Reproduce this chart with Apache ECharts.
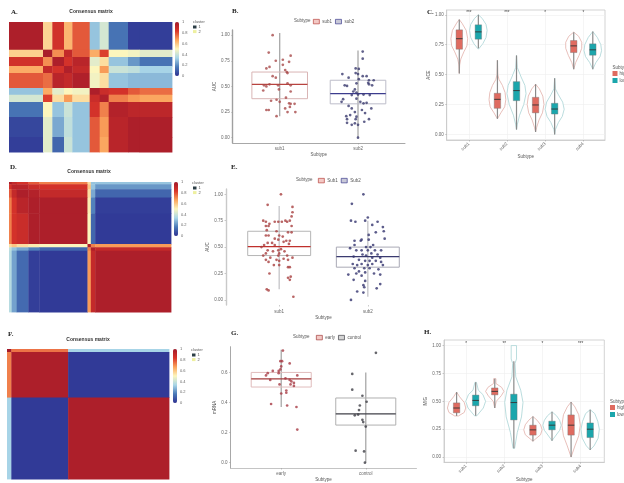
<!DOCTYPE html>
<html><head><meta charset="utf-8">
<style>html,body{margin:0;padding:0;background:#fff}#c{width:624px;height:483px}</style>
<script src="https://cdn.jsdelivr.net/npm/echarts@6/dist/echarts.min.js"></script>
</head><body><div id="c"></div>
<script>
// ---------- consensus matrices (block edges in sample units, block values 0..1)
const aColEdges=[0,102,130,165,190,242,272,299,357,392,489];
const aRowEdges=[0,83,105,132,153,198,218,240,285,345,390];
const aValues=[
[.97,.57,.86,.63,.78,.30,.42,.15,.03,.03],
[.58,.98,.70,.90,.78,.65,.82,.50,.48,.45],
[.86,.70,.97,.85,.93,.45,.55,.30,.22,.15],
[.65,.90,.85,.96,.90,.50,.68,.40,.38,.33],
[.78,.75,.93,.90,.96,.48,.55,.30,.28,.28],
[.30,.65,.45,.50,.48,.97,.88,.85,.78,.75],
[.42,.82,.55,.68,.55,.88,.96,.72,.68,.66],
[.15,.50,.30,.40,.30,.85,.72,.95,.92,.92],
[.05,.45,.25,.38,.30,.78,.68,.93,.97,.97],
[.03,.45,.12,.40,.30,.78,.66,.93,.97,.97]];
const dColEdges=[0,8,23,58,91,235,245,258,485];
const dRowEdges=[0,7,22,47,95,187,197,207,392];
const dValues=[
[.98,.90,.85,.78,.72,.55,.30,.30],
[.85,.93,.93,.88,.85,.60,.30,.22],
[.78,.90,.97,.95,.90,.55,.25,.12],
[.72,.85,.93,.97,.97,.52,.18,.03],
[.72,.85,.88,.97,.97,.50,.12,.02],
[.55,.60,.55,.52,.50,.98,.72,.68],
[.38,.30,.25,.18,.12,.72,.96,.90],
[.36,.24,.13,.03,.02,.68,.90,.97]];
const fColEdges=[0,13,183,485];
const fRowEdges=[0,9,145,388];
const fValues=[[1,.74,.33],[.72,.97,.02],[.33,.02,.97]];
const heatColors=['#2e3192','#4a7ab8','#a9d6e8','#fcf6bd','#fba45c','#d8352a','#a31a2a'];
const colorbarTicks=[0,.2,.4,.6,.8,1];
const clusterNames=['1','2'];
// ---------- panel B
const bCats=['sub1','sub2'];
const bBox1=[.21,.38,.52,.64,1.02];
const bBox2=[0,.33,.43,.56,.85];
const bPoints1=[[.91,1],[.86,.83],[1.14,.8],[.95,.75],[1.12,.74],[1.04,.76],[.87,.69],[.83,.675],[1.07,.66],[1.09,.64],[1.1,.63],[.91,.6],[.95,.585],[.8,.51],[.83,.5],[.87,.52],[.98,.51],[1.1,.53],[1.14,.51],[.99,.47],[1.14,.45],[.79,.46],[.89,.36],[.96,.37],[1,.35],[1.08,.39],[1.12,.335],[1.14,.33],[1.19,.33],[.83,.27],[.86,.27],[1.07,.285],[1.13,.3],[1.1,.25],[1.2,.25],[.96,.21],[1.04,.71]];
const bPoints2=[[2.06,.84],[2.06,.77],[1.8,.62],[1.97,.675],[2.01,.67],[1.97,.63],[2,.62],[2.06,.6],[2.11,.6],[1.88,.585],[2.01,.57],[2.14,.56],[2.2,.56],[2.13,.535],[1.83,.51],[1.86,.505],[2.14,.52],[2.18,.51],[1.98,.53],[1.96,.47],[1.94,.45],[1.98,.44],[1.92,.415],[2,.42],[2.07,.42],[2.15,.415],[1.81,.375],[1.79,.35],[1.98,.38],[2.03,.35],[2.07,.335],[2.11,.34],[1.88,.31],[1.92,.285],[1.96,.25],[2.05,.27],[2.17,.285],[2.09,.24],[1.85,.21],[1.9,.22],[1.98,.205],[1.86,.18],[1.97,.18],[2.14,.18],[1.86,.145],[1.92,.125],[1.96,.14],[2.08,.155],[2,.125],[2,0]];
// ---------- panel E
const eBox1=[.1,.42,.505,.65,.89];
const eBox2=[.03,.31,.41,.5,.75];
const ePoints1=[[.87,.9],[1.15,.88],[1.15,.83],[1.14,.79],[1.12,.75],[.82,.75],[.85,.74],[.95,.74],[.99,.74],[1.03,.74],[1.07,.75],[1.09,.74],[.89,.72],[.88,.7],[1.14,.7],[.85,.7],[.86,.66],[.97,.65],[1.1,.64],[1.14,.64],[1,.61],[.85,.61],[.88,.61],[1.04,.6],[.95,.58],[.99,.57],[1.08,.56],[1.12,.56],[.87,.54],[.92,.54],[1.05,.55],[.83,.52],[.95,.52],[1.11,.53],[.8,.5],[.99,.47],[1.02,.48],[.87,.47],[.93,.46],[1.06,.46],[.85,.44],[1,.44],[1.09,.42],[.99,.42],[1.15,.4],[.82,.42],[.9,.4],[.97,.38],[1,.37],[1.05,.39],[1.1,.38],[.85,.38],[.88,.36],[1,.33],[.94,.33],[1.1,.31],[1.12,.31],[.89,.25],[1.13,.22],[1.1,.21],[1.12,.19],[.86,.1],[.88,.09],[1.16,.03],[1.02,1]];
const ePoints2=[[1.95,1],[1.82,.91],[2,.78],[1.81,.75],[1.86,.74],[1.97,.75],[2.11,.74],[2.05,.71],[2.17,.69],[2.09,.64],[2.18,.65],[2.01,.615],[2.19,.58],[1.85,.56],[1.92,.56],[1.93,.57],[2.01,.57],[1.85,.52],[1.98,.5],[2.03,.5],[2.06,.52],[1.8,.49],[1.87,.47],[1.93,.47],[2,.47],[2.08,.47],[2.15,.47],[2.04,.44],[1.94,.43],[1.98,.42],[2.11,.43],[1.84,.41],[2.05,.4],[2.14,.4],[1.9,.38],[1.97,.37],[2.02,.37],[2.09,.37],[2.15,.36],[1.83,.34],[1.88,.33],[1.93,.34],[2,.33],[2.05,.34],[2.17,.33],[1.85,.3],[1.96,.3],[2.02,.3],[2.12,.29],[1.9,.27],[1.97,.26],[2.07,.25],[1.78,.24],[1.87,.25],[1.93,.23],[2.14,.24],[1.84,.19],[1.97,.18],[1.95,.14],[1.96,.12],[2.14,.15],[1.88,.08],[1.95,.07],[2.1,.11],[1.81,0]];
// ---------- panel G
const gCats=['early','control'];
const gBox1=[.37,.503,.557,.6,.75];
const gBox2=[0,.25,.325,.43,.6];
const gPoints1=[[1.02,.745],[.99,.675],[1.01,.675],[1.1,.66],[1,.64],[.99,.62],[.9,.61],[.97,.61],[.97,.595],[.84,.595],[.82,.58],[1.19,.58],[1.05,.56],[.87,.55],[1.1,.55],[1.12,.54],[1.15,.53],[.98,.52],[1.11,.52],[1.15,.51],[1.06,.48],[1.06,.465],[1,.46],[.88,.39],[1.07,.38],[1.18,.37],[1.19,.22]];
const gPoints2=[[2.12,.73],[1.84,.59],[1.84,.485],[1.96,.445],[2.01,.405],[1.93,.38],[1.92,.35],[1.91,.32],[1.87,.315],[1.96,.285],[1.97,.27],[2,.24],[1.88,.08],[1.98,.075],[1.99,0]];
// ---------- panel C violins
const vCats=['sub1','sub2','sub3','sub4'];
const cSig=['***','***','*','*'];
const cHighBoxes=[[.51,.712,.8,.874,.96],[.13,.218,.293,.344,.62],[.02,.18,.246,.31,.42],[.545,.684,.74,.785,.855]];
const cLowBoxes=[[.72,.796,.857,.916,1],[.04,.282,.366,.441,.66],[0,.17,.212,.26,.47],[.545,.662,.707,.757,.86]];
const cHighProfiles=[
[[.96,0],[.93,.07],[.87,.18],[.8,.22],[.74,.2],[.69,.12],[.63,.04],[.58,.01],[.51,0]],
[[.62,0],[.5,.01],[.46,.04],[.41,.13],[.35,.2],[.29,.22],[.23,.19],[.18,.09],[.13,0]],
[[.42,0],[.38,.1],[.32,.19],[.25,.22],[.18,.18],[.12,.09],[.06,.03],[.02,0]],
[[.855,0],[.82,.13],[.77,.21],[.72,.21],[.66,.14],[.6,.05],[.545,0]]];
const cLowProfiles=[
[[1,0],[.97,.1],[.92,.2],[.87,.23],[.81,.2],[.76,.12],[.715,.01]],
[[.66,0],[.56,.02],[.48,.12],[.41,.22],[.34,.25],[.25,.19],[.16,.08],[.08,.02],[.04,0]],
[[.47,0],[.38,.02],[.33,.1],[.27,.21],[.21,.25],[.15,.2],[.1,.1],[.04,.02],[0,0]],
[[.86,0],[.81,.12],[.75,.21],[.7,.23],[.65,.19],[.6,.08],[.545,0]]];
// ---------- panel H violins
const hSig=['*','**','*','***'];
const hHighBoxes=[[.369,.397,.44,.486,.583],[.44,.558,.589,.62,.703],[.142,.197,.244,.286,.364],[0,.197,.286,.378,.494]];
const hLowBoxes=[[.37,.46,.508,.556,.67],[.078,.333,.489,.564,.86],[.147,.244,.286,.322,.406],[.064,.175,.25,.306,.425]];
const hHighProfiles=[
[[.583,0],[.54,.08],[.49,.2],[.44,.24],[.4,.2],[.369,.05]],
[[.703,.03],[.66,.03],[.625,.18],[.589,.24],[.55,.17],[.5,.04],[.44,0]],
[[.364,0],[.33,.11],[.29,.2],[.244,.24],[.2,.2],[.16,.06],[.142,0]],
[[.494,0],[.45,.1],[.38,.2],[.286,.24],[.19,.2],[.1,.1],[0,0]]];
const hLowProfiles=[
[[.67,.02],[.6,.07],[.56,.19],[.5,.26],[.44,.2],[.37,.03]],
[[1,.07],[.88,.07],[.84,.03],[.72,.05],[.6,.18],[.49,.24],[.36,.2],[.22,.09],[.078,.02]],
[[.406,0],[.37,.12],[.33,.2],[.286,.24],[.24,.2],[.18,.07],[.147,0]],
[[.425,0],[.39,.12],[.32,.2],[.25,.24],[.17,.21],[.1,.1],[.064,0]]];

// ---------- builders
const grids=[],xAxes=[],yAxes=[],series=[],titles=[],legends=[],visualMaps=[];
const serifBold={fontFamily:'Liberation Serif',fontWeight:'bold',color:'#222'};
function addTitle(text,x,y,size,align,extra){
  titles.push({text,left:x,top:y,padding:0,textAlign:align||'left',
    textStyle:Object.assign({fontSize:size,fontWeight:'normal',color:'#555',fontFamily:'Liberation Sans'},extra||{})});
}
function addAxes(rect,xo,yo){
  const g=grids.length;
  grids.push(Object.assign({containLabel:false},rect));
  xAxes.push(Object.assign({gridIndex:g,type:'value'},xo));
  yAxes.push(Object.assign({gridIndex:g,type:'value'},yo));
  return g;
}
const hidden={show:false,splitLine:{show:false}};
function renderBlock(params,api){
  const p0=api.coord([api.value(0),api.value(2)]),p1=api.coord([api.value(1),api.value(3)]);
  return {type:'rect',shape:{x:p0[0],y:p0[1],width:p1[0]-p0[0]+.4,height:p1[1]-p0[1]+.4},style:{fill:api.visual('color')}};
}
function addHeat(rect,cols,rows,vals,barLeft,barH){
  const g=addAxes(rect,Object.assign({min:0,max:cols[cols.length-1]},hidden),Object.assign({min:0,max:rows[rows.length-1],inverse:true},hidden));
  const data=[];
  vals.forEach((r,i)=>r.forEach((v,j)=>data.push([cols[j],cols[j+1],rows[i],rows[i+1],v])));
  const si=series.length;
  series.push({type:'custom',name:'heat'+si,xAxisIndex:g,yAxisIndex:g,renderItem:renderBlock,encode:{x:[0,1],y:[2,3]},data,silent:true});
  visualMaps.push({type:'continuous',min:0,max:1,dimension:4,seriesIndex:si,calculable:false,show:true,text:[],padding:0,
    left:barLeft,top:rect.top,itemWidth:4,itemHeight:barH,inRange:{color:heatColors}});
  const b=addAxes({left:barLeft+4,top:rect.top,width:1,height:barH},Object.assign({min:0,max:1},hidden),
    {min:0,max:1,interval:.2,position:'right',axisLine:{show:false},axisTick:{show:false},splitLine:{show:false},
     axisLabel:{show:true,fontSize:4,color:'#666',margin:2,formatter:v=>String(+v.toFixed(1))}});
  series.push({type:'custom',name:'bar'+si,xAxisIndex:b,yAxisIndex:b,renderItem:()=>null,data:[],silent:true});
}
function valueX(cats,min,max,axisColor,lw,name,gap,rot,labelMargin){
  const vals=cats.map((c,i)=>i+1);
  return {min,max,name,nameLocation:'middle',nameGap:gap,nameTextStyle:{fontSize:4.5,color:'#555'},
    axisLine:{show:axisColor!==null,onZero:false,lineStyle:{color:axisColor||'#fff',width:lw}},
    axisTick:{show:true,length:1.5,customValues:vals,lineStyle:{color:'#999',width:.5}},
    axisLabel:{fontSize:4.5,color:'#666',margin:labelMargin||3,rotate:rot||0,customValues:vals,formatter:v=>cats[Math.round(v)-1]||''},
    splitLine:{show:false}};
}
function valueY(min,max,ticks,digits,axisColor,lw,name,gap){
  return {min,max,name,nameLocation:'middle',nameGap:gap,nameTextStyle:{fontSize:4.5,color:'#555'},
    axisLine:{show:true,onZero:false,lineStyle:{color:axisColor,width:lw}},
    axisTick:{show:true,length:1.5,customValues:ticks,lineStyle:{color:'#999',width:.5}},
    axisLabel:{fontSize:4.5,color:'#666',margin:3,customValues:ticks,formatter:v=>v.toFixed(digits)},
    splitLine:{show:false}};
}
function renderBox(halfW,stroke,medColor,medW,whisker,fill){
  return function(params,api){
    const x=api.value(0),lo=api.value(1),q1=api.value(2),med=api.value(3),q3=api.value(4),hi=api.value(5);
    const a=api.coord([x-halfW,q3]),b=api.coord([x+halfW,q1]),top=api.coord([x,hi]),bot=api.coord([x,lo]);
    const m0=api.coord([x-halfW,med]),m1=api.coord([x+halfW,med]);
    return {type:'group',children:[
      {type:'line',shape:{x1:top[0],y1:top[1],x2:bot[0],y2:bot[1]},style:{stroke:whisker,lineWidth:1.3}},
      {type:'rect',shape:{x:a[0],y:a[1],width:b[0]-a[0],height:b[1]-a[1]},style:{fill:fill||'none',stroke,lineWidth:1}},
      {type:'line',shape:{x1:m0[0],y1:m0[1],x2:m1[0],y2:m1[1]},style:{stroke:medColor,lineWidth:medW}}
    ]};
  };
}
function addBoxPanel(g,boxes,pts,names,strokes,meds,ptCols,whisk){
  boxes.forEach((b,i)=>{
    series.push({type:'custom',name:names[i],xAxisIndex:g,yAxisIndex:g,silent:true,
      itemStyle:{color:'#fff',borderColor:ptCols[i]},
      renderItem:renderBox(.355,strokes[i],meds[i],1.3,whisk),encode:{x:0,y:[1,5]},data:[[i+1].concat(b)]});
    series.push({type:'scatter',name:names[i]+' points',xAxisIndex:g,yAxisIndex:g,silent:true,symbolSize:2.7,
      itemStyle:{color:ptCols[i]},data:pts[i]});
  });
}
function addLegend(names,cols,left,top){
  legends.push({show:true,left,top,padding:0,orient:'horizontal',itemWidth:6,itemHeight:4.5,itemGap:3,selectedMode:false,
    textStyle:{fontSize:4.5,color:'#555',padding:[0,0,0,-2]},
    data:names.map((n,i)=>({name:n,icon:'rect',itemStyle:{color:cols[i].fill,borderColor:cols[i].stroke,borderWidth:.7}}))});
}
function addViolins(g,offset,boxes,profiles,name,fill,outline){
  series.push({type:'custom',name,xAxisIndex:g,yAxisIndex:g,silent:true,itemStyle:{color:fill},
    encode:{x:0,y:[1,5]},
    data:boxes.map((b,i)=>[i+1+offset].concat(b)),
    renderItem(params,api){
      const x=api.value(0),p=profiles[params.dataIndex];
      const pts=p.map(q=>api.coord([x+q[1],q[0]])).concat(p.slice().reverse().map(q=>api.coord([x-q[1],q[0]])));
      const hw=.085;
      const a=api.coord([x-hw,api.value(4)]),b=api.coord([x+hw,api.value(2)]);
      const top=api.coord([x,api.value(5)]),bot=api.coord([x,api.value(1)]);
      const m0=api.coord([x-hw,api.value(3)]),m1=api.coord([x+hw,api.value(3)]);
      return {type:'group',children:[
        {type:'polygon',shape:{points:pts},style:{fill:'#fff',stroke:outline,lineWidth:.8,lineJoin:'round'}},
        {type:'line',shape:{x1:top[0],y1:top[1],x2:bot[0],y2:bot[1]},style:{stroke:'#8a8a8a',lineWidth:1.2}},
        {type:'rect',shape:{x:a[0],y:a[1],width:b[0]-a[0],height:b[1]-a[1]},style:{fill,stroke:'#777',lineWidth:.4}},
        {type:'line',shape:{x1:m0[0],y1:m0[1],x2:m1[0],y2:m1[1]},style:{stroke:'#333',lineWidth:.9}}
      ]};
    }});
}
function addSig(g,labels,yVal){
  series.push({type:'custom',name:'sig'+g,xAxisIndex:g,yAxisIndex:g,silent:true,encode:{x:0,y:1},
    data:labels.map((l,i)=>[i+1,yVal]),
    renderItem(params,api){
      const p=api.coord([api.value(0),api.value(1)]);
      return {type:'text',style:{text:labels[params.dataIndex],x:p[0],y:p[1],align:'center',verticalAlign:'middle',fontSize:4.5,fill:'#444'}};
    }});
}
function violinPanel(rect,min,max,yMin,yMax,name,sig,sigY,hb,hp,lb,lp,gap){
  const g=addAxes(Object.assign({show:true,borderColor:'#c8c8c8',borderWidth:.8,backgroundColor:'#fff'},rect),
    Object.assign(valueX(vCats,min,max,'#c8c8c8',.8,'Subtype',gap,45,3),{}),
    valueY(yMin,yMax,[0,.25,.5,.75,1],2,'#c8c8c8',.8,name,12));
  xAxes[g].splitLine={show:true,customValues:[1,2,3,4],lineStyle:{color:'#efefef',width:.6}};
  yAxes[g].splitLine={show:true,customValues:[0,.25,.5,.75,1],lineStyle:{color:'#efefef',width:.6}};
  addViolins(g,-.25,hb,hp,'high','#df6b60','#e2b0aa');
  addViolins(g,.25,lb,lp,'low','#1ba6ac','#a9d4d6');
  addSig(g,sig,sigY);
}

// ---------- panels
addHeat({left:9,top:22,width:163,height:130},aColEdges,aRowEdges,aValues,175,54);
addHeat({left:9,top:182,width:162,height:130},dColEdges,dRowEdges,dValues,174,54);
addHeat({left:7,top:349,width:162,height:130},fColEdges,fRowEdges,fValues,173,54);

const yTicks=[0,.25,.5,.75,1];
const gB=addAxes({left:232.7,top:30,width:172.3,height:113},
  valueX(bCats,.4,2.6,'#a8a8a8',1,'Subtype',8),valueY(-.052,1.05,yTicks,2,'#a0a0a0',1.4,'AUC',13));
addBoxPanel(gB,[bBox1,bBox2],[bPoints1,bPoints2],['sub1','sub2'],['#d9b5b5','#bdbdc9'],['#b8433f','#3c3c8e'],['#a84a4a','#3a3a6e'],'#a8a8a8');

const gE=addAxes({left:226,top:189,width:195,height:116},
  valueX(bCats,.4,2.6,null,0,'Subtype',10,0,4),valueY(-.048,1.05,yTicks,2,'#c9c9c9',1.4,'AUC',14));
addBoxPanel(gE,[eBox1,eBox2],[ePoints1,ePoints2],['Sub1','Sub2'],['#b5b5b5','#a9a9b5'],['#c0302c','#3b3b70'],['#a83e3e','#33336e'],'#c4c4c8');

const gG=addAxes({left:230.5,top:346.7,width:186,height:125.6},
  valueX(gCats,.4,2.6,'#b5b5b5',.8,'Subtype',8),valueY(-.036,.771,[0,.2,.4,.6],1,'#a8a8a8',1,'mRNA',13));
addBoxPanel(gG,[gBox1,gBox2],[gPoints1,gPoints2],['early','control'],['#e0bcbc','#b0b0b0'],['#a33c3c','#404048'],['#a83b45','#3e3e46'],'#a8a8a8');

violinPanel({left:446.7,top:10,width:158.3,height:130},.42,4.57,-.047,1.04,'ACE',cSig,1.015,cHighBoxes,cHighProfiles,cLowBoxes,cLowProfiles,13);
violinPanel({left:444,top:340,width:160.3,height:131.7},.42,4.62,-.047,1.05,'MIG',hSig,1.014,hHighBoxes,hHighProfiles,hLowBoxes,hLowProfiles,11);

// dummy series so legends can show cluster keys
clusterNames.forEach((n,i)=>series.push({type:'custom',name:n,renderItem:()=>null,data:[],xAxisIndex:0,yAxisIndex:0,itemStyle:{color:i?'#eef0a0':'#2c3e46'}}));
[[193,25],[193,186],[192,353]].forEach(p=>{
  legends.push({show:true,left:p[0],top:p[1],padding:0,orient:'vertical',itemWidth:3.5,itemHeight:3,itemGap:.6,selectedMode:false,
    textStyle:{fontSize:4,color:'#555',padding:[0,0,0,-3]},
    data:clusterNames.map(n=>({name:n,icon:'rect'}))});
});
addLegend(['sub1','sub2'],[{fill:'#f3c9c5',stroke:'#b8433f'},{fill:'#c9c9d8',stroke:'#3c3c8e'}],313,19);
addLegend(['Sub1','Sub2'],[{fill:'#f3c9c5',stroke:'#b8433f'},{fill:'#c9c9d8',stroke:'#3c3c8e'}],318,178);
addLegend(['early','control'],[{fill:'#f3c9c5',stroke:'#a33c3c'},{fill:'#d5d5d5',stroke:'#404048'}],316,335);
[[612.5,71],[610,405]].forEach(p=>{
  legends.push({show:true,left:p[0],top:p[1],padding:0,orient:'vertical',itemWidth:5,itemHeight:5,itemGap:2,selectedMode:false,
    textStyle:{fontSize:4.5,color:'#555',padding:[0,0,0,-3]},
    data:[{name:'high',icon:'rect'},{name:'low',icon:'rect'}]});
});

// ---------- text
[['A.',11,9],['B.',232,8],['C.',427,9],['D.',10,164],['E.',231,164],['F.',8,331],['G.',231,330],['H.',424,329]].forEach(t=>addTitle(t[0],t[1],t[2],7,'left',serifBold));
[[91,9],[89,169],[88,337]].forEach(p=>addTitle('Consensus matrix',p[0],p[1],5,'center',{fontWeight:'bold',color:'#333'}));
[[193,20],[192,181],[191,348]].forEach(p=>addTitle('cluster',p[0],p[1],4,'left'));
[[294,18.5],[296,177.5],[293,334.5]].forEach(p=>addTitle('Subtype',p[0],p[1],4.5,'left'));
[[612.5,65],[610,399]].forEach(p=>addTitle('Subtype',p[0],p[1],4.5,'left'));

const chart=echarts.init(document.getElementById('c'),null,{renderer:'canvas'});
chart.setOption({animation:false,backgroundColor:'#fff',grid:grids,xAxis:xAxes,yAxis:yAxes,series,title:titles,legend:legends,visualMap:visualMaps,tooltip:{show:false}});
</script></body></html>
